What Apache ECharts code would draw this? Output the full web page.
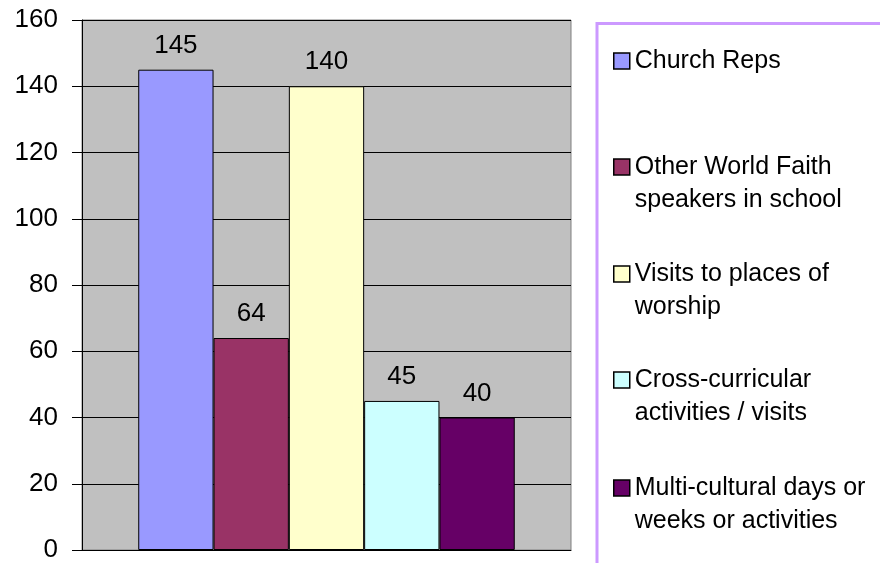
<!DOCTYPE html>
<html>
<head>
<meta charset="utf-8">
<script src="https://cdn.jsdelivr.net/npm/echarts@6/dist/echarts.min.js"></script>
<style>
  html, body { margin: 0; padding: 0; background: #fff; }
  #chart { width: 880px; height: 563px; }
</style>
</head>
<body>
<div id="chart"></div>
<script>
// data
const activities = [
  'Church Reps',
  'Other World Faith speakers in school',
  'Visits to places of worship',
  'Cross-curricular activities / visits',
  'Multi-cultural days or weeks or activities'
]
const legendLines = [
  ['Church Reps'],
  ['Other World Faith', 'speakers in school'],
  ['Visits to places of', 'worship'],
  ['Cross-curricular', 'activities / visits'],
  ['Multi-cultural days or', 'weeks or activities']
]
const counts = [145, 64, 140, 45, 40]
const barColors = ['#9999FF', '#993366', '#FFFFCC', '#CCFFFF', '#660066']

const FONT = '"Liberation Sans", Arial, sans-serif'
const LINE_H = 33
const legendCenters = [61, 167, 274, 380, 488]

const chart = echarts.init(document.getElementById('chart'), null, { renderer: 'canvas' })

const series = activities.map((name, i) => ({
  name,
  type: 'bar',
  data: [counts[i]],
  barGap: '0%',
  barCategoryGap: '23%',
  itemStyle: { color: barColors[i], borderColor: '#000', borderWidth: 1 },
  label: {
    show: true,
    position: 'top',
    distance: 11,
    color: '#000',
    fontSize: 26,
    fontFamily: FONT
  }
}))

// one legend per entry; two-line entries get a blank line on top so the
// marker sits beside the first line, as in the original
const legends = activities.map((name, i) => {
  const lines = legendLines[i]
  const shown = lines.length > 1 ? ['\u00a0'].concat(lines) : lines
  const blockH = shown.length * LINE_H
  return {
    data: [name],
    orient: 'vertical',
    left: 613,
    top: legendCenters[i] - blockH / 2,
    icon: 'rect',
    itemWidth: 16,
    itemHeight: 16,
    itemGap: 0,
    padding: 0,
    selectedMode: false,
    itemStyle: { borderColor: '#000', borderWidth: 1.5 },
    formatter: () => shown.join('\n'),
    textStyle: {
      color: '#000',
      fontSize: 25,
      fontFamily: FONT,
      lineHeight: LINE_H
    }
  }
})

const option = {
  animation: false,
  backgroundColor: '#fff',
  grid: {
    left: 82, top: 20, right: 309, bottom: 11,
    show: true,
    backgroundColor: '#C0C0C0',
    borderColor: '#808080',
    borderWidth: 1
  },
  legend: legends,
  xAxis: {
    type: 'category',
    data: [''],
    axisLine: { lineStyle: { color: '#000', width: 1 } },
    axisTick: { show: false },
    axisLabel: { show: false }
  },
  yAxis: {
    type: 'value',
    min: 0,
    max: 160,
    interval: 20,
    axisLine: { show: true, lineStyle: { color: '#000', width: 1 } },
    axisTick: { show: true, length: 10, lineStyle: { color: '#000' } },
    axisLabel: { color: '#000', fontSize: 26, fontFamily: FONT, margin: 24 },
    splitLine: { lineStyle: { color: '#000', width: 1 } }
  },
  graphic: [{
    type: 'rect',
    shape: { x: 597, y: 23.5, width: 400, height: 600 },
    style: { fill: 'none', stroke: '#CC99FF', lineWidth: 3 },
    silent: true,
    z: -1
  }],
  series
}

chart.setOption(option)
</script>
</body>
</html>
